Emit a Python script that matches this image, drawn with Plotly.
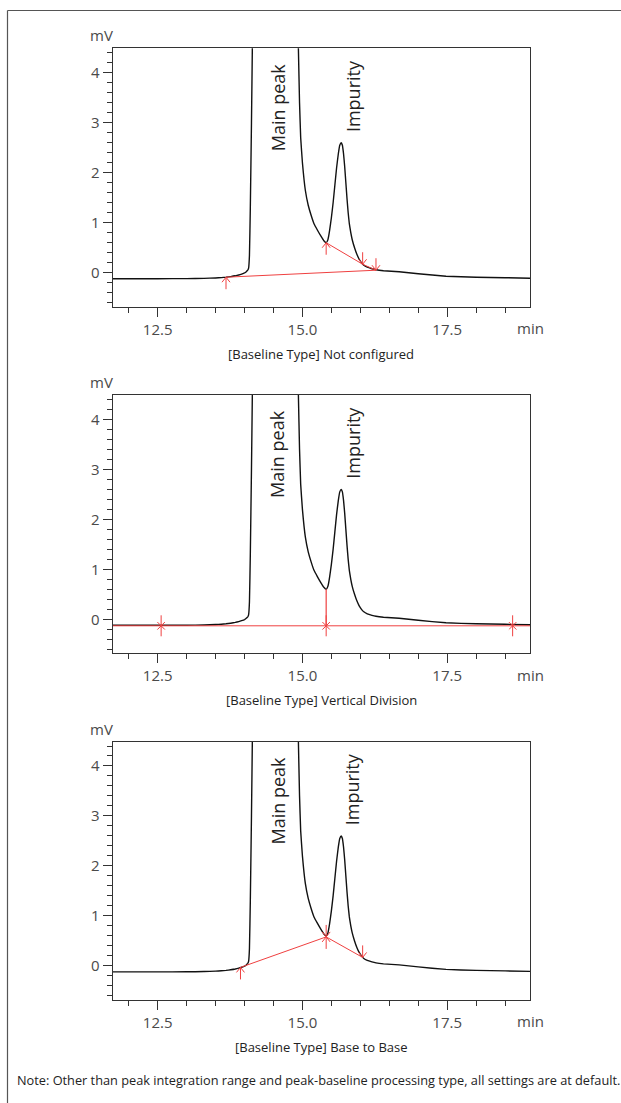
import plotly.graph_objects as go

# ---------------- data ----------------
time_min = [11.72, 12.5, 13.0, 13.3, 13.5, 13.6, 13.68, 13.76, 13.84, 13.9, 13.95, 14.0, 14.03,
            14.055, 14.07, 14.085, 14.10, 14.12, 14.135, 14.16, 14.3, 14.5, 14.7, 14.85, 14.90,
            14.93, 14.95, 14.97, 15.00, 15.05, 15.10, 15.15, 15.20, 15.26, 15.32, 15.37, 15.41,
            15.44, 15.47, 15.50, 15.53, 15.56, 15.59, 15.62, 15.645, 15.67, 15.69, 15.71, 15.73,
            15.75, 15.77, 15.79, 15.81, 15.835, 15.86, 15.90, 15.94, 15.98, 16.02, 16.06, 16.12,
            16.20, 16.27, 16.40, 16.67, 17.0, 17.48, 18.0, 18.5, 18.93]
signal_mv = [-0.12, -0.12, -0.118, -0.113, -0.105, -0.098, -0.09, -0.078, -0.062, -0.045, -0.027, -0.005, 0.02,
             0.05, 0.09, 0.35, 1.3, 3.0, 4.5, 8.0, 30.0, 60.0, 30.0, 10.0, 6.0,
             4.5, 3.4, 2.7, 2.2, 1.65, 1.35, 1.15, 0.98, 0.85, 0.73, 0.64, 0.60,
             0.66, 0.85, 1.10, 1.40, 1.75, 2.10, 2.38, 2.55, 2.60, 2.55, 2.38, 2.12,
             1.80, 1.48, 1.20, 0.98, 0.80, 0.66, 0.50, 0.37, 0.27, 0.20, 0.15, 0.11,
             0.08, 0.06, 0.04, 0.02, -0.02, -0.07, -0.09, -0.10, -0.11]

x_range = [11.72, 18.93]
y_range = [-0.68, 4.49]
x_tick_vals = [12.5, 15.0, 17.5]
x_tick_text = ["12.5", "15.0", "17.5"]
y_tick_vals = [0, 1, 2, 3, 4]
y_tick_text = ["0", "1", "2", "3", "4"]

captions = ["[Baseline Type] Not configured",
            "[Baseline Type] Vertical Division",
            "[Baseline Type] Base to Base"]
note_text = ("Note: Other than peak integration range and peak-baseline processing type, "
             "all settings are at default.")

# panel 1: not configured
nc_main_base_t = [13.68, 16.27]
nc_main_base_y = [-0.09, 0.05]
nc_imp_base_t = [15.41, 16.04, 16.27]
nc_imp_base_y = [0.60, 0.17, 0.05]
nc_up_t = [13.68, 15.41]
nc_up_y = [-0.09, 0.60]
nc_down_t = [16.04, 16.27]
nc_down_y = [0.17, 0.05]

# panel 2: vertical division
vd_base_t = [11.72, 18.93]
vd_base_y = [-0.13, -0.13]
vd_drop_t = [15.41, 15.41]
vd_drop_y = [0.60, -0.13]
vd_star_t = [12.56, 15.41, 18.63]
vd_star_y = [-0.13, -0.13, -0.13]

# panel 3: base to base
bb_base_t = [13.93, 15.41, 16.04]
bb_base_y = [-0.03, 0.58, 0.17]
bb_up_t = [13.93, 15.41]
bb_up_y = [-0.03, 0.58]
bb_down_t = [15.41, 16.04]
bb_down_y = [0.58, 0.17]

peak_labels = ["Main peak", "Impurity"]
peak_label_t = [14.57, 15.87]
peak_label_y = [3.30, 3.53]

# ---------------- style ----------------
W, H = 621, 1103
FONT = "Open Sans"
RED = "#ef4040"
AX = "#333333"
TXT = "#4a4a4a"

x_left_px, x_right_px = 112.5, 530
panel_tops = [48.3, 394.9, 741.5]
panel_bottoms = [306.7, 653.3, 999.9]

# pixel -> data conversion (from the axis ranges and domains)
PX_PER_MIN = (x_right_px - x_left_px) / (x_range[1] - x_range[0])
PX_PER_MV = (panel_bottoms[0] - panel_tops[0]) / (y_range[1] - y_range[0])

fig = go.Figure()

for i in range(3):
    n = "" if i == 0 else str(i + 1)
    fig.update_layout(**{
        f"xaxis{n}": dict(
            domain=[x_left_px / W, x_right_px / W], range=x_range, anchor=f"y{n}",
            showline=True, linecolor=AX, linewidth=1, mirror=True,
            showgrid=False, zeroline=False,
            ticks="outside", ticklen=9, tickcolor=AX, tickwidth=1,
            tickvals=x_tick_vals, ticktext=x_tick_text,
            tickfont=dict(family=FONT, size=15, color=TXT),
            minor=dict(dtick=0.5, tick0=12.0, ticks="outside", ticklen=5,
                       tickcolor=AX, tickwidth=1, showgrid=False),
        ),
        f"yaxis{n}": dict(
            domain=[1 - panel_bottoms[i] / H, 1 - panel_tops[i] / H],
            range=y_range, anchor=f"x{n}",
            showline=True, linecolor=AX, linewidth=1, mirror=True,
            showgrid=False, zeroline=False,
            ticks="outside", ticklen=9, tickcolor=AX, tickwidth=1,
            tickvals=y_tick_vals, ticktext=y_tick_text,
            tickfont=dict(family=FONT, size=15, color=TXT),
            minor=dict(dtick=0.2, tick0=0, ticks="outside", ticklen=5,
                       tickcolor=AX, tickwidth=1, showgrid=False),
        ),
    })

annotations = []

def add_arrows(xa, ya, ts, vs, up):
    """Thin open arrows whose tip sits on the given data points."""
    shaft, head_w, head_h = 12, 4, 5
    sgn = -1 if up else 1
    xs, ys = [], []
    for t, v in zip(ts, vs):
        dx = head_w / PX_PER_MIN
        tail = v + sgn * shaft / PX_PER_MV
        hy = v + sgn * head_h / PX_PER_MV
        xs += [t, t, None, t - dx, t, t + dx, None]
        ys += [tail, v, None, hy, v, hy, None]
    fig.add_trace(go.Scatter(x=xs, y=ys, mode="lines", line=dict(color=RED, width=1),
                             xaxis=xa, yaxis=ya, hoverinfo="skip", cliponaxis=False))

for i in range(3):
    n = "" if i == 0 else str(i + 1)
    xa, ya = f"x{n}", f"y{n}"
    fig.add_trace(go.Scatter(x=time_min, y=signal_mv, mode="lines",
                             line=dict(color="#111111", width=1.4, shape="spline", smoothing=0.3),
                             xaxis=xa, yaxis=ya, hoverinfo="skip"))
    for lab, lt, ly in zip(peak_labels, peak_label_t, peak_label_y):
        annotations.append(dict(x=lt, y=ly, xref=xa, yref=ya, text=lab, showarrow=False,
                                textangle=-90, xanchor="center", yanchor="middle",
                                font=dict(family=FONT, size=18, color="#222222")))
    annotations.append(dict(x=101 / W, y=1 - (panel_tops[i] - 13) / H, xref="paper", yref="paper",
                            text="mV", showarrow=False, xanchor="center", yanchor="middle",
                            font=dict(family=FONT, size=15, color=TXT)))
    annotations.append(dict(x=x_range[1], y=1 - (panel_bottoms[i] + 21.5) / H, xref=xa, yref="paper",
                            text="min", showarrow=False, xanchor="center", yanchor="middle",
                            font=dict(family=FONT, size=15, color=TXT)))
    annotations.append(dict(x=(x_left_px + x_right_px) / 2 / W, y=1 - (panel_bottoms[i] + 47) / H,
                            xref="paper", yref="paper", text=captions[i], showarrow=False,
                            xanchor="center", yanchor="middle",
                            font=dict(family=FONT, size=13, color="#222222")))

# panel 1
fig.add_trace(go.Scatter(x=nc_main_base_t, y=nc_main_base_y, mode="lines",
                         line=dict(color=RED, width=1), xaxis="x", yaxis="y", hoverinfo="skip"))
fig.add_trace(go.Scatter(x=nc_imp_base_t, y=nc_imp_base_y, mode="lines",
                         line=dict(color=RED, width=1), xaxis="x", yaxis="y", hoverinfo="skip"))
add_arrows("x", "y", nc_up_t, nc_up_y, True)
add_arrows("x", "y", nc_down_t, nc_down_y, False)

# panel 2
fig.add_trace(go.Scatter(x=vd_base_t, y=vd_base_y, mode="lines",
                         line=dict(color=RED, width=1), xaxis="x2", yaxis="y2", hoverinfo="skip"))
fig.add_trace(go.Scatter(x=vd_drop_t, y=vd_drop_y, mode="lines",
                         line=dict(color=RED, width=1.2), xaxis="x2", yaxis="y2", hoverinfo="skip"))
fig.add_trace(go.Scatter(x=vd_star_t, y=vd_star_y, mode="markers",
                         marker=dict(symbol="line-ns", size=15, color=RED,
                                     line=dict(color=RED, width=1)),
                         xaxis="x2", yaxis="y2", hoverinfo="skip"))
fig.add_trace(go.Scatter(x=vd_star_t, y=vd_star_y, mode="markers",
                         marker=dict(symbol="x-thin", size=7.5, color=RED,
                                     line=dict(color=RED, width=1)),
                         xaxis="x2", yaxis="y2", hoverinfo="skip"))

# panel 3
fig.add_trace(go.Scatter(x=bb_base_t, y=bb_base_y, mode="lines",
                         line=dict(color=RED, width=1), xaxis="x3", yaxis="y3", hoverinfo="skip"))
add_arrows("x3", "y3", bb_up_t, bb_up_y, True)
add_arrows("x3", "y3", bb_down_t, bb_down_y, False)

annotations.append(dict(x=15 / W, y=1 - 1080 / H, xref="paper", yref="paper", text=note_text,
                        showarrow=False, xanchor="left", yanchor="middle",
                        font=dict(family=FONT, size=12.75, color="#222222")))

shapes = [
    dict(type="line", xref="paper", yref="paper", x0=7.5 / W, x1=1.0, y0=1 - 10.5 / H, y1=1 - 10.5 / H,
         line=dict(color="#555555", width=1.2)),
    dict(type="line", xref="paper", yref="paper", x0=7.5 / W, x1=7.5 / W, y0=1 - 10.5 / H, y1=0,
         line=dict(color="#555555", width=1.2)),
]

fig.update_layout(width=W, height=H, margin=dict(l=0, r=0, t=0, b=0),
                  paper_bgcolor="white", plot_bgcolor="white", showlegend=False,
                  annotations=annotations, shapes=shapes,
                  font=dict(family=FONT))

fig.write_html("out.html")
